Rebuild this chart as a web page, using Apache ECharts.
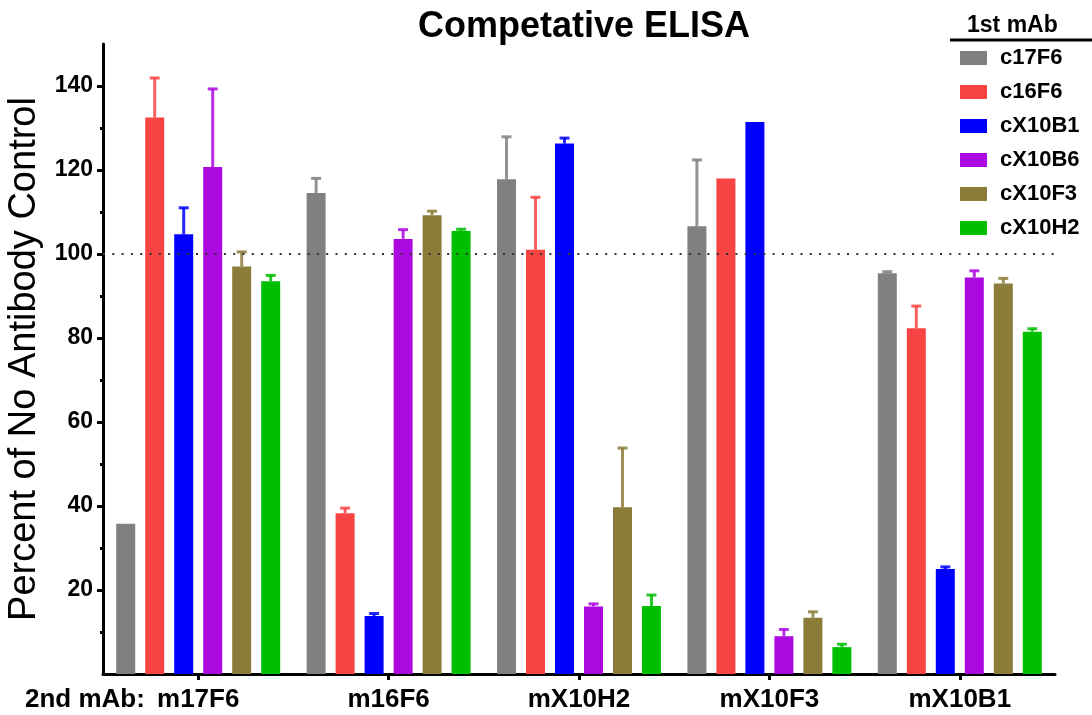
<!DOCTYPE html>
<html>
<head>
<meta charset="utf-8">
<script src="https://cdn.jsdelivr.net/npm/echarts@6/dist/echarts.min.js"></script>
<style>
  html, body { margin: 0; padding: 0; background: #ffffff; }
  #chart { width: 1092px; height: 715px; }
</style>
</head>
<body>
<div id="chart"></div>
<script>
// 2nd mAb (capture) groups along the x axis
const categories = ['m17F6', 'm16F6', 'mX10H2', 'mX10F3', 'mX10B1'];

// 1st mAb (competitor) series
const seriesNames = ['c17F6', 'c16F6', 'cX10B1', 'cX10B6', 'cX10F3', 'cX10H2'];
const seriesColors = ['#808080', '#f84343', '#0000ff', '#ab09df', '#8c7c3a', '#00be00'];

// Mean signal, percent of the no-antibody control
const c17F6  = [35.8, 114.5, 117.8, 106.6, 95.4];
const c16F6  = [132.5, 38.3, 101.0, 118.0, 82.3];
const cX10B1 = [104.7, 13.8, 126.3, 131.4, 25.0];
const cX10B6 = [120.7, 103.6, 16.1, 9.0, 94.4];
const cX10F3 = [97.0, 109.2, 39.7, 13.4, 93.0];
const cX10H2 = [93.5, 105.5, 16.2, 6.4, 81.5];

// Upper error (SD) above each mean; 0 = no bar drawn
const c17F6Err  = [0, 3.5, 10.1, 15.8, 0.4];
const c16F6Err  = [9.4, 1.2, 12.5, 0, 5.3];
const cX10B1Err = [6.3, 0.6, 1.3, 0, 0.5];
const cX10B6Err = [18.6, 2.2, 0.6, 1.6, 1.6];
const cX10F3Err = [3.5, 1.0, 14.1, 1.4, 1.2];
const cX10H2Err = [1.4, 0.4, 2.6, 0.7, 0.7];

// Y axis ticks
const yTickValues = [20, 40, 60, 80, 100, 120, 140];
const yMinorTickValues = [10, 30, 50, 70, 90, 110, 130];
const yMax = 150;
const referenceLevel = 100;

const means = [c17F6, c16F6, cX10B1, cX10B6, cX10F3, cX10H2];
const errs = [c17F6Err, c16F6Err, cX10B1Err, cX10B6Err, cX10F3Err, cX10H2Err];

const FONT = "'Liberation Sans', Arial, Helvetica, sans-serif";
const BAR_W = 19;
const BAR_GAP_PX = 10;
const BAR_PITCH = BAR_W + BAR_GAP_PX;
const N = seriesNames.length;

const barSeries = seriesNames.map((name, i) => ({
  name: name,
  type: 'bar',
  z: 2,
  barWidth: BAR_W,
  barGap: (BAR_GAP_PX / BAR_W * 100).toFixed(1) + '%',
  itemStyle: { color: seriesColors[i] },
  data: means[i]
}));

// Upward SD whiskers with a cap, placed over each bar of the group
const errorSeries = seriesNames.map((name, idx) => ({
  name: name + ' SD',
  type: 'custom',
  z: 3,
  silent: true,
  data: categories.map((c, j) => [j, means[idx][j], errs[idx][j]]),
  encode: { x: 0, y: 1 },
  renderItem: function (params, api) {
    const err = api.value(2);
    if (!err) return null;
    const cat = api.value(0);
    const m = api.value(1);
    const base = api.coord([cat, m]);
    const top = api.coord([cat, m + err]);
    const x = base[0] + (idx - (N - 1) / 2) * BAR_PITCH;
    const color = seriesColors[idx];
    return {
      type: 'group',
      children: [
        { type: 'line', shape: { x1: x, y1: base[1], x2: x, y2: top[1] },
          style: { stroke: color, lineWidth: 3, opacity: 0.85 } },
        { type: 'line', shape: { x1: x - 5, y1: top[1], x2: x + 5, y2: top[1] },
          style: { stroke: color, lineWidth: 3, opacity: 0.85 } }
      ]
    };
  }
}));

// Dotted 100 % reference line, drawn beneath the bars
const referenceSeries = {
  name: 'reference',
  type: 'line',
  z: 1,
  data: [],
  markLine: {
    silent: true,
    symbol: ['none', 'none'],
    label: { show: false },
    lineStyle: { color: '#333333', width: 2, type: [2, 7.3] },
    data: [{ yAxis: referenceLevel }]
  }
};

const chart = echarts.init(document.getElementById('chart'));
chart.setOption({
  animation: false,
  backgroundColor: '#ffffff',
  textStyle: { fontFamily: FONT },
  title: {
    text: 'Competative ELISA',
    left: 579,
    textAlign: 'center',
    top: 4,
    textStyle: { fontFamily: FONT, fontSize: 36, fontWeight: 'bold', color: '#000000' }
  },
  legend: {
    data: seriesNames,
    orient: 'vertical',
    left: 960,
    top: 47,
    padding: 0,
    itemWidth: 27,
    itemHeight: 14,
    itemGap: 12,
    icon: 'rect',
    selectedMode: false,
    textStyle: { fontFamily: FONT, fontSize: 22, fontWeight: 'bold', color: '#000000',
                 padding: [0, 0, 0, 8] }
  },
  grid: { left: 103, right: 37, top: 44, bottom: 41, containLabel: false, outerBoundsMode: 'none' },
  xAxis: {
    type: 'category',
    data: categories,
    axisLine: { show: true, lineStyle: { color: '#000000', width: 3 } },
    axisTick: { show: true, alignWithLabel: true, length: 6, lineStyle: { color: '#000000', width: 3 } },
    axisLabel: { margin: 13, fontFamily: FONT, fontSize: 26, fontWeight: 'bold', color: '#000000' },
    splitLine: { show: false }
  },
  yAxis: [
    {
      type: 'value',
      min: 0,
      max: yMax,
      interval: 20,
      name: 'Percent of No Antibody Control',
      nameLocation: 'middle',
      nameRotate: 90,
      nameGap: 58,
      nameTextStyle: { fontFamily: FONT, fontSize: 38, fontWeight: 'normal', color: '#000000' },
      axisLine: { show: true, lineStyle: { color: '#000000', width: 3 } },
      axisTick: { show: true, length: 6, customValues: yTickValues, lineStyle: { color: '#000000', width: 3 } },
      axisLabel: { margin: 10, customValues: yTickValues, fontFamily: FONT, fontSize: 23,
                   fontWeight: 'bold', color: '#000000' },
      splitLine: { show: false }
    },
    {
      type: 'value',
      min: 0,
      max: yMax,
      position: 'left',
      axisLine: { show: false },
      axisTick: { show: true, length: 3, customValues: yMinorTickValues, lineStyle: { color: '#000000', width: 3 } },
      axisLabel: { show: false },
      splitLine: { show: false }
    }
  ],
  graphic: [
    { type: 'text', left: 25, top: 687,
      style: { text: '2nd mAb:', font: 'bold 26px ' + FONT, fill: '#000000' } },
    { type: 'text', left: 967, top: 14,
      style: { text: '1st mAb', font: 'bold 23px ' + FONT, fill: '#000000' } },
    { type: 'line', shape: { x1: 950, y1: 40, x2: 1092, y2: 40 },
      style: { stroke: '#000000', lineWidth: 3 } }
  ],
  series: [referenceSeries].concat(barSeries, errorSeries)
});
</script>
</body>
</html>
